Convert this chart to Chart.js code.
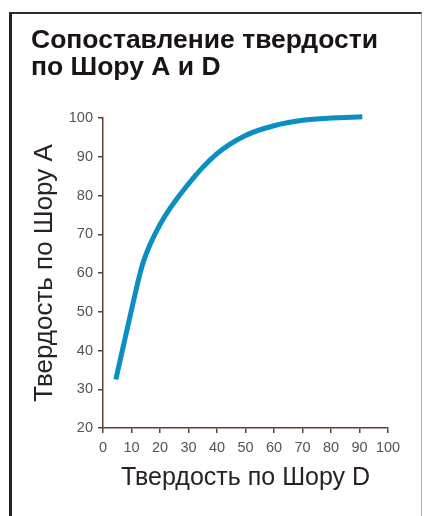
<!DOCTYPE html>
<html>
<head>
<meta charset="utf-8">
<script src="https://cdn.jsdelivr.net/npm/chart.js@4/dist/chart.umd.min.js"></script>
<style>
  html, body { margin: 0; padding: 0; background: #fff; }
  #wrap { position: relative; width: 425px; height: 516px; overflow: hidden; }
  #frame {
    position: absolute; left: 9px; top: 12px; width: 409px; height: 520px;
    border-left: 3px solid #2b2222; border-top: 2px solid #362b2b; border-right: 1px solid #b8b0ae;
  }
  #chart { position: absolute; left: 0; top: 0; }
</style>
</head>
<body>
<div id="wrap">
  <div id="frame"></div>
  <canvas id="chart" width="425" height="516"></canvas>
</div>
<script>
// Твердость по Шору D (ось X) и соответствующая твердость по Шору A (ось Y)
const shoreD = [4.5, 10, 14, 20, 30, 40, 50, 60, 70, 80, 91];
const shoreA = [32.5, 50.5, 62.5, 72.5, 83, 90.8, 95.5, 98, 99.4, 100, 100.3];

const titleLines = ['Сопоставление твердости', 'по Шору A и D'];
const xTitle = 'Твердость по Шору D';
const yTitle = 'Твердость по Шору A';

const axisColor = '#5e4034';
const font = 'Liberation Sans, Arial, sans-serif';

const points = shoreD.map((x, i) => ({ x: x, y: shoreA[i] }));

new Chart(document.getElementById('chart'), {
  type: 'line',
  data: {
    datasets: [{
      data: points,
      borderColor: '#0b8ec2',
      borderWidth: 5,
      pointRadius: 0,
      cubicInterpolationMode: 'monotone',
      borderCapStyle: 'butt',
      clip: false,
      fill: false
    }]
  },
  options: {
    responsive: false,
    animation: false,
    layout: { padding: { left: 31, right: 37, top: 0, bottom: 0 } },
    plugins: {
      legend: { display: false },
      tooltip: { enabled: false },
      title: {
        display: true,
        text: titleLines,
        align: 'start',
        color: '#1a1414',
        font: { family: font, size: 26.5, weight: 'bold', lineHeight: '27px' },
        padding: { top: 27, bottom: 37 }
      }
    },
    scales: {
      x: {
        type: 'linear',
        min: 0,
        max: 100,
        ticks: { stepSize: 10, color: '#5a5250', font: { family: font, size: 14.5 }, padding: 6, maxRotation: 0 },
        grid: { drawOnChartArea: false, color: axisColor, tickLength: 5, lineWidth: 1.5 },
        border: { color: axisColor, width: 1.5 },
        title: {
          display: true, text: xTitle, color: '#2a2222',
          font: { family: font, size: 25 }, padding: { top: 0, bottom: 23 }
        },
        afterFit: (scale) => { scale.height = 88; }
      },
      y: {
        type: 'linear',
        min: 20,
        max: 100,
        ticks: { stepSize: 10, color: '#5a5250', font: { family: font, size: 14.5 }, padding: 5 },
        grid: { drawOnChartArea: false, color: axisColor, tickLength: 5, lineWidth: 1.5 },
        border: { color: axisColor, width: 1.5 },
        title: {
          display: true, text: yTitle, color: '#2a2222',
          font: { family: font, size: 26 }, padding: { top: -2, bottom: 0 }
        },
        afterFit: (scale) => { scale.width = 72; }
      }
    }
  }
});
</script>
</body>
</html>
